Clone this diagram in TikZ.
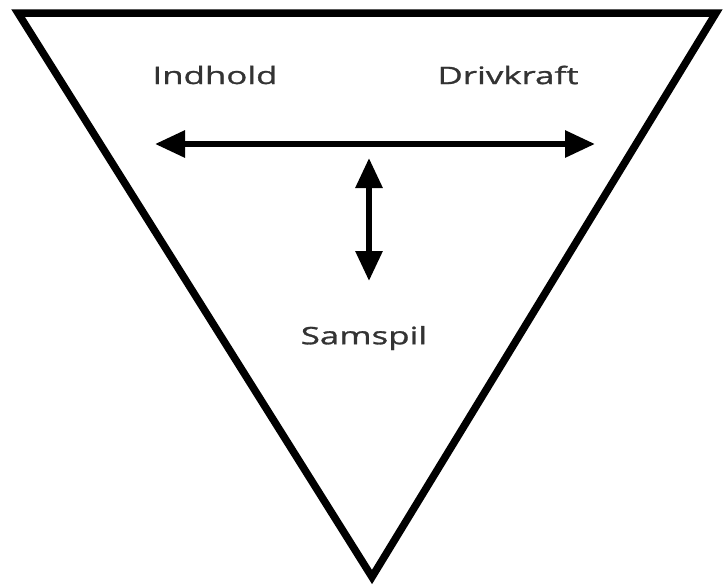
\documentclass[tikz,border=0pt]{standalone}
\usepackage{fontspec}
\newfontfamily\lblfont[FakeStretch=1.45,FakeBold=1.2]{Open Sans}
\usetikzlibrary{arrows.meta}
\begin{document}
\begin{tikzpicture}[x=1pt,y=-1pt,
  lbl/.style={font=\lblfont\fontsize{24}{28}\selectfont, text=black!80, inner sep=0pt},
  bigarrow/.style={line width=6pt, {Triangle[length=30pt,width=26pt]}-{Triangle[length=30pt,width=26pt]}}]
\useasboundingbox (0,0) rectangle (725,587);
\fill[white] (0,0) rectangle (725,587);
\coordinate (tl) at (18,13);
\coordinate (tr) at (716,13);
\coordinate (bt) at (372,577);
\draw[line width=7.5pt, line join=miter] (tl) -- (tr) -- (bt) -- cycle;
\node[lbl] (indhold) at (215,75) {Indhold};
\node[lbl] (drivkraft) at (508,75) {Drivkraft};
\node[lbl] (samspil) at (364,338) {Samspil};
\coordinate (hl) at (155,144);
\coordinate (hr) at (595,144);
\coordinate (vt) at (369,158);
\coordinate (vb) at (369,281);
\draw[bigarrow] (hl) -- (hr);
\draw[bigarrow] (vt) -- (vb);
\end{tikzpicture}
\end{document}
